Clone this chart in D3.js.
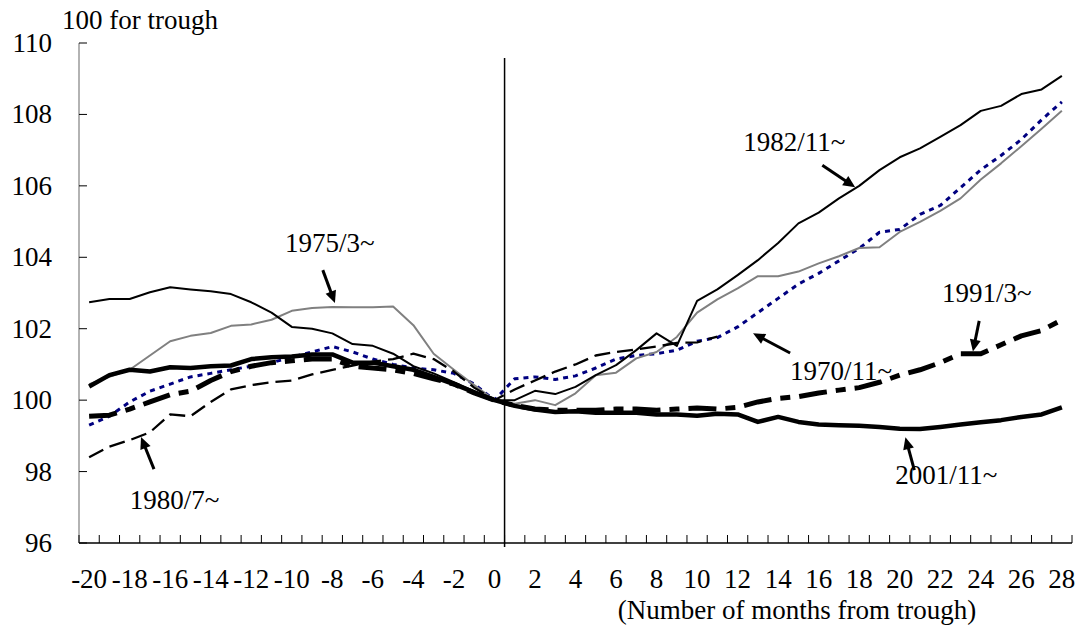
<!DOCTYPE html>
<html><head><meta charset="utf-8">
<script src="https://cdn.jsdelivr.net/npm/d3@7/dist/d3.min.js"></script>
<style>
html,body{margin:0;padding:0;background:#fff;}
svg{display:block;}
text{font-family:"Liberation Serif","Times New Roman",serif;fill:#000;}
</style></head>
<body>
<script>
// ---- data ----
const months = d3.range(-20, 29);
const yTicks = [96, 98, 100, 102, 104, 106, 108, 110];
const xTickLabels = d3.range(-20, 29, 2);

const s1970 = [99.3,99.55,99.95,100.25,100.45,100.65,100.75,100.85,100.95,101.05,101.2,101.35,101.5,101.35,101.15,101.0,100.9,100.85,100.75,100.45,100,
  100.6,100.65,100.58,100.68,100.9,101.15,101.25,101.3,101.4,101.65,101.75,102.05,102.45,102.85,103.25,103.55,103.9,104.25,104.7,104.78,105.2,105.45,105.95,106.45,106.85,107.3,107.85,108.35];
const s1975 = [100.45,100.65,100.85,101.25,101.65,101.8,101.88,102.08,102.12,102.25,102.5,102.58,102.61,102.6,102.6,102.62,102.1,101.3,100.85,100.42,100,
  99.9,100.0,99.86,100.19,100.7,100.77,101.17,101.35,101.77,102.45,102.82,103.13,103.47,103.47,103.6,103.83,104.03,104.26,104.28,104.71,104.99,105.3,105.65,106.18,106.63,107.11,107.6,108.1];
const s1980 = [98.4,98.7,98.88,99.1,99.6,99.55,99.95,100.3,100.42,100.5,100.55,100.72,100.85,100.97,101.08,101.15,101.3,101.15,100.8,100.35,100,
  100.3,100.55,100.8,101.0,101.25,101.35,101.42,101.5,101.6,101.62,101.78];
const s1982 = [102.74,102.83,102.83,103.02,103.16,103.1,103.05,102.97,102.74,102.45,102.05,102.0,101.87,101.57,101.52,101.3,100.95,100.75,100.5,100.25,100,
  100.0,100.26,100.17,100.37,100.7,100.98,101.4,101.87,101.52,102.78,103.1,103.5,103.92,104.4,104.95,105.25,105.65,106.0,106.44,106.8,107.05,107.37,107.7,108.1,108.24,108.57,108.7,109.08];
const s1991 = [99.55,99.58,99.75,99.95,100.15,100.25,100.55,100.8,100.95,101.05,101.1,101.15,101.15,100.95,100.9,100.85,100.75,100.6,100.45,100.2,100,
  99.85,99.75,99.72,99.72,99.72,99.75,99.75,99.72,99.75,99.78,99.75,99.8,99.95,100.05,100.1,100.2,100.28,100.35,100.5,100.7,100.85,101.05,101.3,101.3,101.55,101.8,101.95,102.25];
const s2001 = [100.38,100.7,100.85,100.8,100.92,100.9,100.95,100.97,101.15,101.2,101.22,101.28,101.28,101.05,101.05,100.95,100.85,100.65,100.45,100.22,100,
  99.84,99.74,99.67,99.69,99.65,99.65,99.65,99.6,99.6,99.56,99.62,99.6,99.39,99.53,99.39,99.32,99.3,99.28,99.25,99.2,99.19,99.25,99.32,99.38,99.44,99.53,99.6,99.8];

const seriesNames = ["1970/11~","1975/3~","1980/7~","1982/11~","1991/3~","2001/11~"];
const seriesValues = [s1970, s1975, s1980, s1982, s1991, s2001];

// annotation anchors in data units: [label, textMonth, textValue, tailMonth, tailValue, tipMonth, tipValue]
const annLabels = ["1982/11~","1975/3~","1970/11~","1991/3~","1980/7~","2001/11~"];
const annText = [[12.28,106.97],[-10.33,104.14],[14.59,100.56],[22.09,102.74],[-17.99,96.95],[19.78,97.65]];
const annTail = [[16.18,106.58],[-8.47,103.64],[14.59,101.32],[23.92,102.22],[-16.8,98.07],[20.72,98.04]];
const annTip  = [[17.8,105.96],[-7.87,102.72],[12.76,101.87],[23.61,101.36],[-17.44,98.97],[20.28,98.96]];

// ---- drawing ----
const W = 1079, H = 627;
const M = {left:79, right:1072, top:43, bottom:543};
const svg = d3.select("body").append("svg").attr("width", W).attr("height", H);

const xb = d3.scaleBand().domain(months).range([M.left, M.right]).paddingInner(0).paddingOuter(0);
const bw = xb.bandwidth();
const xc = m => xb(m) + bw/2;
const xl = d3.scaleLinear().domain([-20, 28]).range([xc(-20), xc(28)]);
const y = d3.scaleLinear().domain([96, 110]).range([M.bottom, M.top]);

const styles = [
  {stroke:"#000080", width:3, dash:"5,5"},
  {stroke:"#808080", width:2, dash:null},
  {stroke:"#000000", width:2.3, dash:"16,7"},
  {stroke:"#000000", width:2, dash:null},
  {stroke:"#000000", width:5, dash:"28,9,10,9"},
  {stroke:"#000000", width:4.5, dash:null}
];

// y axis
const yAxisG = svg.append("g");
yAxisG.append("line").attr("x1", M.left).attr("x2", M.left).attr("y1", y(110)).attr("y2", y(96))
  .attr("stroke", "#808080").attr("stroke-width", 1.2);
yAxisG.selectAll("line.t").data(yTicks).enter().append("line").attr("class","t")
  .attr("x1", M.left).attr("x2", M.left + 8).attr("y1", d => y(d)).attr("y2", d => y(d))
  .attr("stroke", "#000").attr("stroke-width", 1);
yAxisG.selectAll("text").data(yTicks).enter().append("text")
  .attr("x", 52).attr("y", d => y(d) + 9).attr("text-anchor", "end")
  .attr("font-size", 27).text(d => d);

svg.append("text").attr("x", 62).attr("y", 29).attr("font-size", 27).text("100 for trough");

// x axis
const xAxisG = svg.append("g");
const bounds = months.map(m => xb(m)).concat([M.right]);
xAxisG.selectAll("line.t").data(bounds).enter().append("line").attr("class","t")
  .attr("x1", d => d).attr("x2", d => d).attr("y1", M.bottom - 8).attr("y2", M.bottom)
  .attr("stroke", "#000").attr("stroke-width", 1);
xAxisG.append("line").attr("x1", M.left).attr("x2", M.right).attr("y1", M.bottom).attr("y2", M.bottom)
  .attr("stroke", "#000").attr("stroke-width", 1.5);
xAxisG.selectAll("text").data(xTickLabels).enter().append("text")
  .attr("x", d => xc(d)).attr("y", 588).attr("text-anchor", "middle")
  .attr("font-size", 27).text(d => d);
svg.append("text").attr("x", 797).attr("y", 619).attr("text-anchor", "middle")
  .attr("font-size", 27).text("(Number of months from trough)");

// vertical trough line at boundary after month 0
const vx = xb(0) + bw;
svg.append("line").attr("x1", vx).attr("x2", vx).attr("y1", y(109.58)).attr("y2", M.bottom + 4)
  .attr("stroke", "#000").attr("stroke-width", 1.5);

// series
const line = d3.line().x((d, i) => xc(months[i])).y(d => y(d));
seriesValues.forEach((vals, k) => {
  const st = styles[k];
  svg.append("path").datum(vals).attr("d", line)
    .attr("fill", "none").attr("stroke", st.stroke).attr("stroke-width", st.width)
    .attr("stroke-dasharray", st.dash).attr("stroke-linejoin", "round")
    .attr("class", "series").attr("data-name", seriesNames[k]);
});

// annotations
annLabels.forEach((lab, i) => {
  svg.append("text").attr("x", xl(annText[i][0])).attr("y", y(annText[i][1]))
    .attr("font-size", 27).text(lab);
  const tx = xl(annTail[i][0]), ty = y(annTail[i][1]);
  const px = xl(annTip[i][0]), py = y(annTip[i][1]);
  const dx = px - tx, dy = py - ty, L = Math.hypot(dx, dy);
  const ux = dx / L, uy = dy / L;
  const hl = 12, hw = 5.5;
  const bx = px - ux * hl, by = py - uy * hl;
  svg.append("line").attr("x1", tx).attr("y1", ty).attr("x2", bx + ux*2).attr("y2", by + uy*2)
    .attr("stroke", "#000").attr("stroke-width", 3);
  svg.append("polygon").attr("points", [
    [px, py], [bx - uy*hw, by + ux*hw], [bx + uy*hw, by - ux*hw]
  ].map(p => p.join(",")).join(" ")).attr("fill", "#000");
});
</script>
</body></html>
